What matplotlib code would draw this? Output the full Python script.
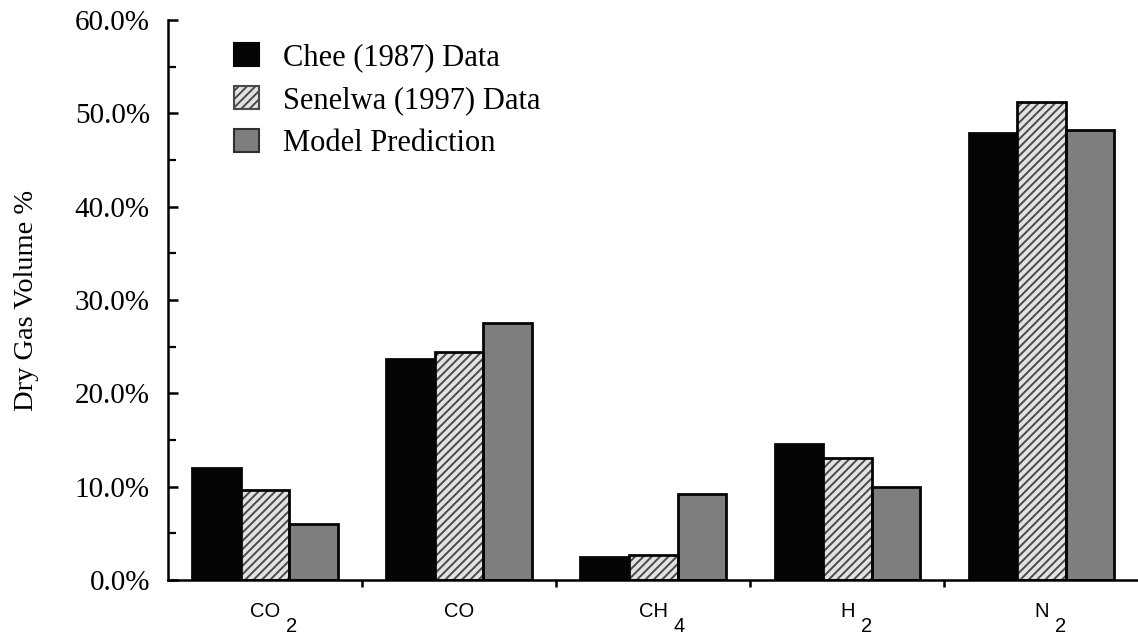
import matplotlib
matplotlib.use("Agg")
import matplotlib.pyplot as plt
from matplotlib.patches import Patch
from matplotlib.ticker import MultipleLocator, FuncFormatter
import numpy as np

# Gas species: (main symbol, subscript)
gas_names = ["CO", "CO", "CH", "H", "N"]
gas_subscripts = ["2", "", "4", "2", "2"]

# Dry gas composition, volume %
chee_1987 = [12.0, 23.7, 2.5, 14.6, 47.9]
senelwa_1997 = [9.6, 24.4, 2.7, 13.1, 51.2]
model_prediction = [6.0, 27.5, 9.2, 10.0, 48.2]

series_labels = ["Chee (1987) Data", "Senelwa (1997) Data", "Model Prediction"]

SERIF = ["Liberation Serif", "DejaVu Serif"]
SANS = ["Liberation Sans", "DejaVu Sans"]

plt.rcParams["hatch.linewidth"] = 1.4

fig = plt.figure(figsize=(11.38, 6.35), dpi=100)
ax = fig.add_axes([168 / 1138, 55 / 635, 970.5 / 1138, 560 / 635])

x = np.arange(len(gas_names))
width = 0.25

black = "#050505"
gray = "#7e7e7e"
hatch_face = "#e2e2e2"
hatch_ink = "#4a4a4a"
edge_lw = 2.0

ax.bar(x - width, chee_1987, width, color=black, edgecolor=black,
       linewidth=edge_lw, zorder=2)
# hatched series: fill + hatch in grey, then a black outline on top
ax.bar(x, senelwa_1997, width, facecolor=hatch_face, edgecolor=hatch_ink,
       hatch="////", linewidth=0, zorder=2)
ax.bar(x, senelwa_1997, width, fill=False, edgecolor=black,
       linewidth=edge_lw, zorder=3)
ax.bar(x + width, model_prediction, width, color=gray, edgecolor=black,
       linewidth=edge_lw, zorder=2)

ax.set_xlim(-0.5, 4.5)
ax.set_ylim(0, 60)

for side in ("top", "right"):
    ax.spines[side].set_visible(False)
for side in ("left", "bottom"):
    ax.spines[side].set_linewidth(1.8)
ax.spines["bottom"].set_zorder(4)

# y axis
ax.yaxis.set_major_locator(MultipleLocator(10))
ax.yaxis.set_minor_locator(MultipleLocator(5))
ax.yaxis.set_major_formatter(FuncFormatter(lambda v, p: f"{v:.1f}%"))
ax.tick_params(axis="y", which="major", direction="in", length=7, width=1.8,
               pad=13, labelsize=21)
ax.tick_params(axis="y", which="minor", direction="in", length=6, width=1.6)
for lbl in ax.get_yticklabels():
    lbl.set_family(SERIF)

ax.set_ylabel("Dry Gas Volume %", fontsize=20.5, family=SERIF)
ax.yaxis.set_label_coords(-0.133, 0.5)

# x axis: separators between gas groups
ax.set_xticks(x[:-1] + 0.5)
ax.set_xticklabels([])
ax.tick_params(axis="x", which="major", direction="out", length=5, width=1.8)

# category labels with lowered subscripts
for xi, name, sub in zip(x, gas_names, gas_subscripts):
    base = ax.annotate(name, xy=(xi, 0), xycoords=("data", "axes fraction"),
                       xytext=(0, -37), textcoords="offset pixels",
                       ha="center", va="baseline", fontsize=14.5, family=SANS)
    if sub:
        ax.annotate(sub, xy=(1, 0), xycoords=base, xytext=(6, -11),
                    textcoords="offset pixels", ha="left", va="baseline",
                    fontsize=14.5, family=SANS)

handles = [
    Patch(facecolor=black, edgecolor=black, linewidth=1.5),
    Patch(facecolor=hatch_face, edgecolor=hatch_ink, hatch="////", linewidth=1.5),
    Patch(facecolor=gray, edgecolor="#303030", linewidth=1.5),
]
ax.legend(handles, series_labels, loc="upper left",
          bbox_to_anchor=(234 / 1138, 1 - 43 / 635), bbox_transform=fig.transFigure,
          frameon=False, borderpad=0, borderaxespad=0,
          handlelength=0.82, handleheight=0.8, handletextpad=0.78,
          labelspacing=0.44, prop={"family": SERIF, "size": 22})

fig.savefig("out.png", dpi=100)
